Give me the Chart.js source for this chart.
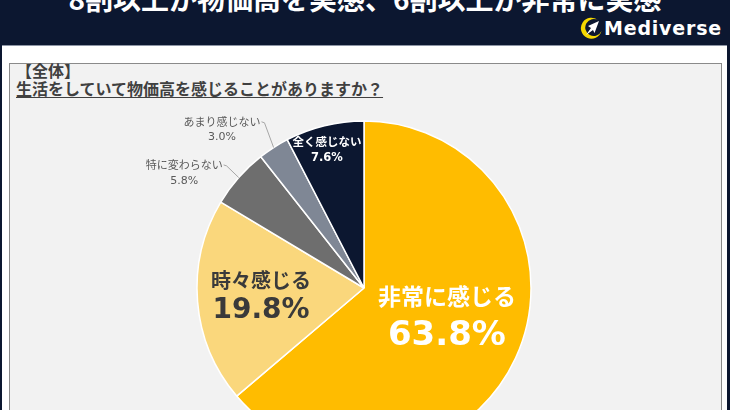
<!DOCTYPE html>
<html><head><meta charset="utf-8">
<script src="https://cdn.jsdelivr.net/npm/chart.js@4"></script>
<style>
html,body{margin:0;padding:0;width:730px;height:410px;overflow:hidden;background:#0c1730;position:relative;}
#htitle{position:absolute;left:0;top:-16px;width:730px;text-align:center;color:#fff;font:bold 28px/28px 'Noto Sans CJK JP',sans-serif;white-space:nowrap;}
#logo{position:absolute;left:578px;top:16px;width:26px;height:26px;}
#brand{position:absolute;left:604px;top:16px;color:#fff;font:bold 19px/24px 'DejaVu Sans',sans-serif;letter-spacing:0.8px;white-space:nowrap;}
#panel{position:absolute;left:2px;top:45px;width:725px;height:400px;background:#fff;border-top:1px solid #8d95a5;}
#box{position:absolute;left:9px;top:63px;width:711px;height:400px;background:#f2f2f2;border:1px solid #8a8a8a;}
.t{position:absolute;left:16px;color:#404040;font:bold 16px/18px 'Noto Sans CJK JP',sans-serif;white-space:nowrap;}
#t1{top:61px;}
#t2{top:79px;text-decoration:underline;text-decoration-thickness:1px;text-underline-offset:2px;}
#wrap{position:absolute;left:10px;top:64px;width:708px;height:448px;}
</style></head>
<body>
<div id="htitle">8割以上が物価高を実感、6割以上が非常に実感</div>
<svg id="logo" viewBox="0 0 26 26">
  <path d="M20.5 4.5 A10.5 10.5 0 1 0 23.5 15 A8.5 8.5 0 1 1 20.5 4.5 Z" fill="#f5d800"/>
  <path d="M21 5 L10 10 L13 12 L8 19 L15 14 L16.5 17 Z" fill="#fff"/>
</svg>
<div id="brand">Mediverse</div>
<div id="panel"></div>
<div id="box"></div>
<div class="t" id="t1">【全体】</div>
<div class="t" id="t2">生活をしていて物価高を感じることがありますか？</div>
<div id="wrap"><canvas id="c" width="708" height="448"></canvas></div>
<script>
const categories = ['非常に感じる', '時々感じる', '特に変わらない', 'あまり感じない', '全く感じない'];
const values = [63.8, 19.8, 5.8, 3.0, 7.6];

const sliceColors = ['#ffbc00', '#fad77c', '#6e6e6e', '#7f8795', '#0c1730'];
const fontStack = "'DejaVu Sans','Noto Sans CJK JP',sans-serif";
const labelStyles = [
  {f:0.527, dA:-5.3, name:23, val:34, gap:37, color:'#ffffff', weight:'bold'},
  {f:0.619, dA:-0.3, name:20, val:28, gap:28, color:'#3a3a3a', weight:'bold'},
  {f:1.277, dA:-8.9, name:11, val:11, gap:15, color:'#595959', weight:'normal', leader:true},
  {f:1.272, dA:-9.2, name:11, val:11, gap:14.5, color:'#595959', weight:'normal', leader:true},
  {f:0.853, dA:-1.4, name:11.5, val:11.5, gap:15, color:'#ffffff', weight:'bold'}
];

const labelPlugin = {
  id: 'sliceLabels',
  afterDatasetsDraw(chart) {
    const ctx = chart.ctx;
    const meta = chart.getDatasetMeta(0);
    meta.data.forEach((arc, i) => {
      const st = labelStyles[i];
      const p = arc.getProps(['x','y','startAngle','endAngle','outerRadius'], true);
      const midRaw = (p.startAngle + p.endAngle) / 2;
      const mid = midRaw + st.dA * Math.PI / 180;
      const r = p.outerRadius * st.f;
      const cx = p.x + Math.cos(mid) * r;
      const cy = p.y + Math.sin(mid) * r;
      const y1 = cy - st.gap / 2, y2 = cy + st.gap / 2;
      ctx.save();
      ctx.fillStyle = st.color;
      ctx.textAlign = 'center';
      ctx.textBaseline = 'middle';
      ctx.font = st.weight + ' ' + st.name + 'px ' + fontStack;
      ctx.fillText(categories[i], cx, y1);
      const w = ctx.measureText(categories[i]).width;
      ctx.font = st.weight + ' ' + st.val + 'px ' + fontStack;
      ctx.fillText(values[i].toFixed(1) + '%', cx, y2);
      if (st.leader) {
        const sx = cx + w / 2 + 1, sy = y1 - 1;
        const ex = p.x + Math.cos(midRaw) * p.outerRadius;
        const ey = p.y + Math.sin(midRaw) * p.outerRadius;
        ctx.strokeStyle = '#a6a6a6';
        ctx.lineWidth = 1;
        ctx.beginPath();
        ctx.moveTo(sx, sy);
        ctx.lineTo(sx + 3, sy + 1);
        ctx.lineTo(ex, ey);
        ctx.stroke();
      }
      ctx.restore();
    });
  }
};

new Chart(document.getElementById('c'), {
  type: 'pie',
  data: {
    labels: categories,
    datasets: [{
      data: values,
      backgroundColor: sliceColors,
      borderColor: '#ffffff',
      borderWidth: 1.5,
      radius: 167
    }]
  },
  options: {
    responsive: false,
    animation: false,
    layout: {padding: 0},
    plugins: {legend: {display: false}, tooltip: {enabled: false}}
  },
  plugins: [labelPlugin]
});
</script>
</body></html>
